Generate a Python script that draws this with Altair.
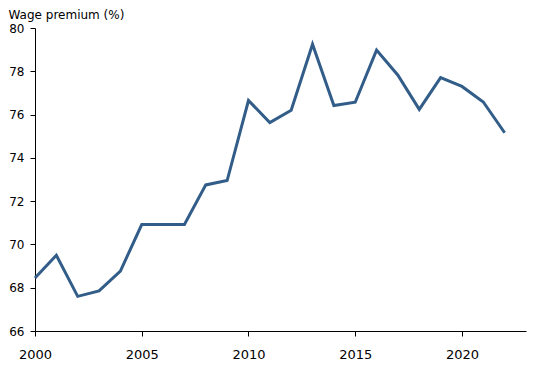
import altair as alt
import pandas as pd

years = list(range(2000, 2023))
premium = [68.45, 69.5, 67.6, 67.85, 68.77, 70.92, 70.92, 70.92, 72.75, 72.95,
           76.65, 75.63, 76.2, 79.25, 76.42, 76.57, 78.98, 77.82, 76.24, 77.71,
           77.3, 76.58, 75.16]

df = pd.DataFrame({"year": years, "premium": premium})

FONT = "DejaVu Sans"

chart = alt.Chart(df).mark_line(color="#335d89", strokeWidth=3).encode(
    x=alt.X("year:Q",
            scale=alt.Scale(domain=[2000, 2023], nice=False, zero=False),
            axis=alt.Axis(values=[2000, 2005, 2010, 2015, 2020], format="d",
                          title=None, grid=False, tickSize=5, labelPadding=12,
                          domainColor="black", tickColor="black",
                          labelColor="black", labelFontSize=13, labelFont=FONT,
                          labelFlush=False)),
    y=alt.Y("premium:Q",
            scale=alt.Scale(domain=[66, 80], nice=False, zero=False),
            axis=alt.Axis(values=list(range(66, 81, 2)), title="Wage premium (%)",
                          grid=False, tickSize=5, labelPadding=6,
                          domainColor="black", tickColor="black",
                          labelColor="black", labelFontSize=12, labelFont=FONT,
                          titleAngle=0, titleX=-27, titleY=-10, titleAlign="left",
                          titleBaseline="alphabetic", titleFont=FONT,
                          titleFontSize=12, titleFontWeight="normal",
                          titleColor="black")),
).properties(
    width=491, height=303,
    autosize=alt.AutoSizeParams(type="none"),
    padding={"left": 27, "top": 20, "right": 16, "bottom": 34},
).configure_view(stroke=None)

chart.save("out.html", embed_options={"renderer": "svg", "actions": False})
